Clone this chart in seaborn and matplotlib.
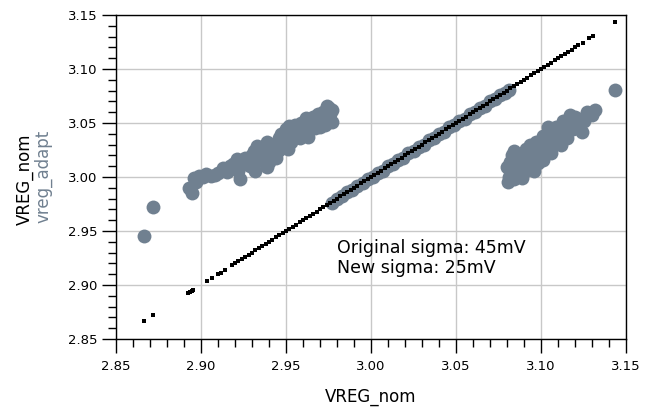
"""VREG_nom vs vreg_adapt scatter"""

import pandas as pd
import seaborn as sns
import matplotlib.pyplot as plt
from matplotlib.ticker import MultipleLocator

# gray points: vreg_adapt against VREG_nom
left_x = [2.8665, 2.8718, 2.8947, 2.8960, 2.8930, 2.8990, 2.9030, 2.9060, 2.9100,
          2.9130, 2.9170, 2.9210, 2.9230, 2.9250, 2.9280, 2.9300, 2.9330, 2.9350,
          2.9370, 2.9390, 2.9390, 2.9410, 2.9440, 2.9460, 2.9480, 2.9510, 2.9520,
          2.9540, 2.9560, 2.9580, 2.9600, 2.9620, 2.9630, 2.9650, 2.9670, 2.9690,
          2.9700, 2.9720, 2.9740, 2.9770, 2.9770, 2.9750,
          2.897, 2.901, 2.908, 2.915, 2.919, 2.922, 2.926, 2.929, 2.931, 2.934,
          2.936, 2.940, 2.942, 2.945, 2.947, 2.949, 2.950, 2.953, 2.955, 2.957,
          2.959, 2.961, 2.964, 2.966, 2.968, 2.971, 2.973, 2.975, 2.976, 2.940,
          2.932, 2.944]
left_y = [2.945, 2.972, 2.985, 2.999, 2.990, 3.001, 3.003, 3.001, 3.004,
          3.008, 3.010, 3.017, 2.998, 3.012, 3.015, 3.020, 3.029, 3.022,
          3.018, 3.032, 3.009, 3.026, 3.030, 3.036, 3.033, 3.026, 3.047,
          3.040, 3.044, 3.036, 3.048, 3.055, 3.037, 3.050, 3.045, 3.058,
          3.046, 3.060, 3.066, 3.051, 3.062, 3.055,
          2.995, 3.000, 3.002, 3.005, 3.012, 3.006, 3.018, 3.010, 3.024, 3.016,
          3.028, 3.020, 3.030, 3.024, 3.040, 3.028, 3.044, 3.032, 3.048, 3.042,
          3.050, 3.040, 3.052, 3.056, 3.050, 3.054, 3.048, 3.064, 3.058, 3.014,
          3.006, 3.018]

band_x = [2.977, 2.980, 2.983, 2.986, 2.989, 2.992, 2.995, 2.998, 3.001, 3.004,
          3.007, 3.010, 3.013, 3.016, 3.019, 3.022, 3.025, 3.028, 3.031, 3.034,
          3.037, 3.040, 3.043, 3.046, 3.049, 3.052, 3.055, 3.058, 3.061, 3.064,
          3.067, 3.070, 3.073, 3.076, 3.079, 3.081]
band_y = [2.976, 2.980, 2.982, 2.986, 2.988, 2.992, 2.994, 2.998, 3.000, 3.004,
          3.006, 3.010, 3.012, 3.016, 3.018, 3.022, 3.024, 3.028, 3.030, 3.034,
          3.036, 3.040, 3.042, 3.046, 3.048, 3.052, 3.054, 3.058, 3.060, 3.064,
          3.066, 3.070, 3.072, 3.076, 3.078, 3.081]

right_x = [3.0806, 3.0800, 3.0830, 3.0850, 3.0870, 3.0890, 3.0900, 3.0935, 3.0950,
           3.0980, 3.1000, 3.1010, 3.1040, 3.1060, 3.1080, 3.1100, 3.1120, 3.1140,
           3.1150, 3.1170, 3.1190, 3.1210, 3.1240, 3.1260, 3.1290, 3.1320, 3.0840,
           3.0920, 3.1030, 3.1435,
           3.081, 3.082, 3.086, 3.088, 3.090, 3.091, 3.093, 3.095, 3.097, 3.099,
           3.101, 3.102, 3.105, 3.107, 3.109, 3.111, 3.113, 3.116, 3.118, 3.120,
           3.122, 3.125, 3.127, 3.130, 3.084, 3.088, 3.096]
right_y = [2.995, 3.009, 3.020, 3.004, 3.013, 2.999, 3.022, 3.030, 3.008,
           3.013, 3.027, 3.038, 3.046, 3.022, 3.034, 3.040, 3.030, 3.048,
           3.036, 3.057, 3.044, 3.050, 3.042, 3.056, 3.058, 3.062, 2.998,
           3.017, 3.030, 3.081,
           3.000, 3.014, 3.010, 3.018, 3.005, 3.026, 3.012, 3.020, 3.032, 3.022,
           3.016, 3.034, 3.040, 3.030, 3.046, 3.036, 3.052, 3.044, 3.050, 3.056,
           3.046, 3.052, 3.060, 3.057, 3.024, 3.003, 3.006]

# black points: VREG_nom against itself
vreg_nom = [2.8665, 2.8720, 2.8925, 2.8935, 2.8945, 2.8955, 2.9035, 2.9065, 2.9100,
            2.9115, 2.9140, 2.9185, 2.9200, 2.9220,
            2.924, 2.926, 2.928, 2.930, 2.932, 2.934, 2.936, 2.938, 2.940, 2.942,
            2.944, 2.946, 2.948, 2.950, 2.952, 2.954, 2.956, 2.958, 2.960, 2.962,
            2.964, 2.966, 2.968, 2.970, 2.972, 2.974, 2.976, 2.978, 2.980, 2.982,
            2.984, 2.986, 2.988, 2.990, 2.992, 2.994, 2.996, 2.998, 3.000, 3.002,
            3.004, 3.006, 3.008, 3.010, 3.012, 3.014, 3.016, 3.018, 3.020, 3.022,
            3.024, 3.026, 3.028, 3.030, 3.032, 3.034, 3.036, 3.038, 3.040, 3.042,
            3.044, 3.046, 3.048, 3.050, 3.052, 3.054, 3.056, 3.058, 3.060, 3.062,
            3.064, 3.066, 3.068, 3.070, 3.072, 3.074, 3.076, 3.078, 3.080, 3.082,
            3.084, 3.086, 3.088, 3.090, 3.092, 3.094, 3.096, 3.098, 3.100, 3.102,
            3.104, 3.106, 3.108, 3.110, 3.112, 3.114, 3.116, 3.118, 3.120, 3.122,
            3.1245, 3.1285, 3.1306, 3.1435]

ticks = [2.85, 2.90, 2.95, 3.00, 3.05, 3.10, 3.15]
note = "Original sigma: 45mV\nNew sigma: 25mV"

clusters = pd.DataFrame({"nom": left_x + right_x, "adapt": left_y + right_y})
band = pd.DataFrame({"nom": band_x, "adapt": band_y})
black = pd.DataFrame({"nom": vreg_nom, "nom2": vreg_nom})

sns.set_style("white")
plt.rcParams["font.family"] = ["DejaVu Sans"]

fig = plt.figure(figsize=(6.5, 4.09), dpi=100)
ax = fig.add_axes([116 / 650, 1 - 339 / 409, 510 / 650, 324 / 409])

sns.scatterplot(data=clusters, x="nom", y="adapt", ax=ax, color="slategray",
                s=100, linewidth=0, alpha=1, zorder=2)
sns.scatterplot(data=band, x="nom", y="adapt", ax=ax, color="slategray",
                s=100, linewidth=0, alpha=1, zorder=2)
sns.scatterplot(data=black, x="nom", y="nom2", ax=ax, color="black",
                marker="s", s=10, linewidth=0, zorder=3)

ax.set_xlim(2.85, 3.15)
ax.set_ylim(2.85, 3.15)
ax.set_xticks(ticks)
ax.set_yticks(ticks)
ax.set_xticklabels([f"{t:.2f}" for t in ticks])
ax.set_yticklabels([f"{t:.2f}" for t in ticks])
ax.xaxis.set_minor_locator(MultipleLocator(0.01))
ax.yaxis.set_minor_locator(MultipleLocator(0.01))
ax.tick_params(which="major", direction="out", length=10, width=1,
               labelsize=9.5, colors="black")
ax.tick_params(axis="x", which="major", pad=5)
ax.tick_params(which="minor", direction="out", length=5.5, width=1, colors="black")
ax.tick_params(axis="both", which="both", bottom=True, left=True, top=False, right=False)
ax.grid(True, which="major", color="#c8c8c8", linewidth=1, zorder=0)
ax.set_axisbelow(True)
for sp in ax.spines.values():
    sp.set_color("black")
    sp.set_linewidth(1)

ax.set_xlabel("")
ax.set_ylabel("")
fig.text(371 / 650, 1 - 397 / 409, "VREG_nom", ha="center", va="center",
         fontsize=12, color="black")
fig.text(25 / 650, 1 - 179 / 409, "VREG_nom", ha="center", va="center",
         rotation=90, fontsize=12, color="black")
fig.text(43 / 650, 1 - 176 / 409, "vreg_adapt", ha="center", va="center",
         rotation=90, fontsize=12, color="slategray")
ax.text(2.980, 2.925, note, ha="left", va="center", fontsize=12.5,
        linespacing=1.2, color="black")

fig.savefig("out.png", dpi=100)
